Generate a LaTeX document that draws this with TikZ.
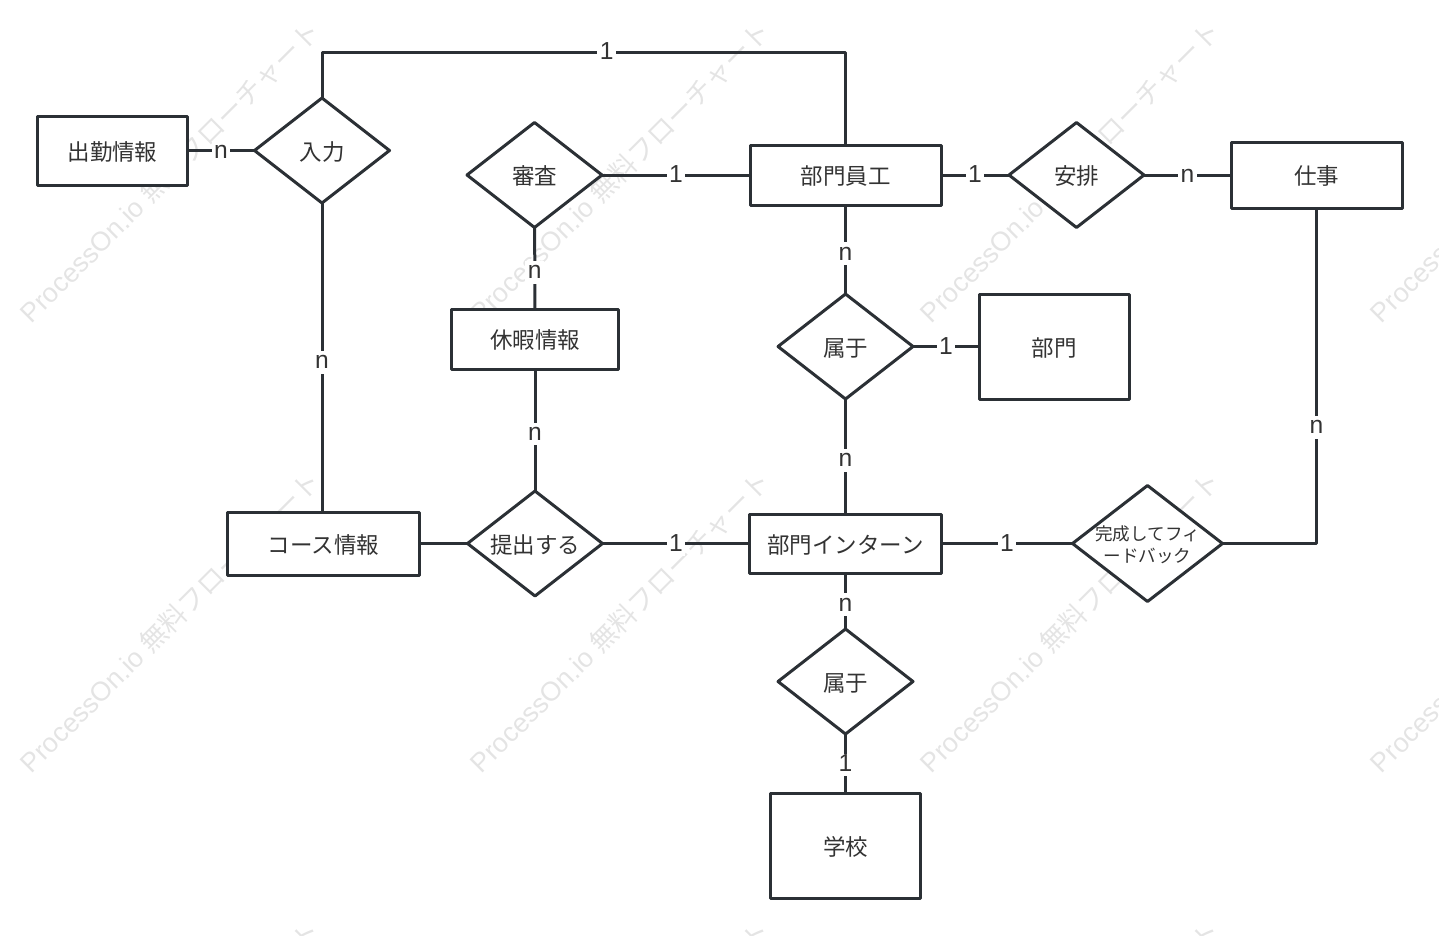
\documentclass[tikz,border=0pt]{standalone}
\usepackage{fontspec}
\setmainfont{Liberation Sans}
\newfontfamily\jp{Noto Sans CJK JP}
\usetikzlibrary{shapes.geometric, positioning}
\definecolor{ink}{HTML}{2B3035}
\definecolor{wording}{HTML}{333333}
\definecolor{faint}{HTML}{E4E4E4}
\tikzstyle{entity} = [rectangle, minimum width=3cm, minimum height=2.1cm, inner sep=0pt, outer sep=0pt, text height=12.8pt, text depth=1.54pt, text centered, draw=ink, fill=white, line width=0.06cm, line join=round, text=wording, font=\jp\fontsize{12.8}{15}\selectfont]
\tikzstyle{relation} = [diamond, minimum width=2.7cm, minimum height=2.1cm, inner sep=0pt, outer sep=0pt, text height=12.8pt, text depth=1.54pt, text centered, draw=ink, fill=white, line width=0.06cm, line join=round, text=wording, font=\jp\fontsize{12.8}{15}\selectfont]
\tikzstyle{link} = [draw=ink, line width=0.06cm, line join=round]
\tikzstyle{card} = [fill=white, inner xsep=0.05cm, inner ysep=0.1cm, text height=1.38ex, text depth=0pt, yshift=-0.03cm, text=wording, font=\fontsize{14}{16}\selectfont]
\tikzstyle{stamp} = [rotate=45, text=faint, font=\fontsize{15.3}{18}\selectfont]
\newcommand{\squeezed}[1]{\smash{\makebox[0pt]{\begin{tabular}{@{}c@{}}#1\end{tabular}}}}

\begin{document}
\begin{tikzpicture}
\useasboundingbox (0,0) rectangle (28.78,-18.7);
\clip (0,0) rectangle (28.78,-18.7);

% watermark tiles
\foreach \i in {0,1,2,3}
  \foreach \j in {0,1,2}
    \node (stamp\i\j) [stamp] at (3.4+9*\i,-3.44-9*\j) {ProcessOn.io {\jp 無料フローチャート}};

\coordinate (rail) at (0,-1.04);

\node (staff) [entity, minimum width=3.82cm, minimum height=1.2cm] at (16.91,-3.5) {部門員工};
\node (review) [relation, left=2.96cm of staff] {審査};
\node (arrange) [relation, right=1.36cm of staff] {安排};
\node (job) [entity, minimum width=3.42cm, minimum height=1.32cm, right=1.74cm of arrange] {仕事};

\node (belong) [relation, below=1.78cm of staff] {属于};
\node (dept) [entity, right=1.32cm of belong] {部門};

\node (intern) [entity, minimum width=3.84cm, minimum height=1.18cm, below=2.3cm of belong] {部門インターン};
\node (submit) [relation, left=2.94cm of intern] {\squeezed{提出する}};
\node (course) [entity, minimum width=3.84cm, minimum height=1.26cm, left=0.96cm of submit] {コース情報};
\node (leave) [entity, minimum width=3.34cm, minimum height=1.2cm, above=2.44cm of submit] {休暇情報};

\node (enter) [relation, above=6.18cm of course, xshift=-0.03cm] {入力};
\node (attend) [entity, minimum height=1.38cm, left=1.34cm of enter] {出勤情報};

\node (feedback) [relation, minimum width=3cm, minimum height=2.32cm, right=2.62cm of intern, text height=10.66pt, font=\jp\fontsize{10}{12.5}\selectfont] {\squeezed{完成してフィ\\ードバック}};

\node (belongb) [relation, below=1.12cm of intern] {属于};
\node (school) [entity, below=1.18cm of belongb] {学校};

\draw [link] (attend) -- node[card] {n} (enter);
\draw [link] (enter.north) -- (enter.north |- rail) -- node[card, pos=0.544] {1} (staff.north |- rail) -- (staff.north);
\draw [link] (enter) -- node[card, pos=0.51] {n} (enter |- course.north);
\draw [link] (review) -- node[card] {1} (staff);
\draw [link] (review) -- node[card, pos=0.53] {n} (leave);
\draw [link] (leave) -- node[card, pos=0.52] {n} (submit);
\draw [link] (course) -- (submit);
\draw [link] (submit) -- node[card] {1} (intern);
\draw [link] (staff) -- node[card] {1} (arrange);
\draw [link] (arrange) -- node[card] {n} (job);
\draw [link] (staff) -- node[card, pos=0.53] {n} (belong);
\draw [link] (belong) -- node[card] {1} (dept);
\draw [link] (belong) -- node[card, pos=0.52] {n} (intern);
\draw [link] (intern) -- node[card] {1} (feedback);
\draw [link] (job.south) -- node[card, pos=0.65] {n} (job.south |- feedback.east) -- (feedback.east);
\draw [link] (intern) -- node[card, pos=0.54] {n} (belongb);
\draw [link] (belongb) -- node[card] {1} (school);
\end{tikzpicture}
\end{document}
